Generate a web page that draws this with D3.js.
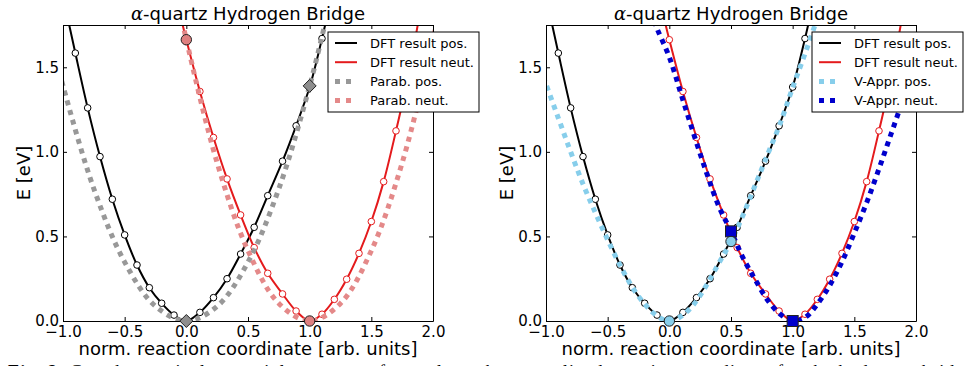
<!DOCTYPE html>
<head>
  <meta charset="utf-8">
  <script src="https://d3js.org/d3.v7.min.js"></script>
  <style>
    body { margin:0; background:#fff; }
  </style>
</head>
<body>
<script>
var xTicks = [-1.0, -0.5, 0.0, 0.5, 1.0, 1.5, 2.0];
var yTicks = [0.0, 0.5, 1.0, 1.5];

// DFT results (first and last entry only carry the line out of the frame)
var dftPosX = [-1.0, -0.9, -0.8, -0.7, -0.6, -0.5, -0.4, -0.3, -0.2, -0.1, 0.0, 0.11, 0.22, 0.33, 0.44, 0.55, 0.66, 0.78, 0.89, 1.0, 1.1, 1.15];
var dftPosE = [1.92, 1.584, 1.26, 0.972, 0.72, 0.509, 0.331, 0.197, 0.105, 0.035, 0.0, 0.051, 0.138, 0.25, 0.396, 0.554, 0.741, 0.945, 1.154, 1.383, 1.67, 1.83];
var dftNeutX = [-0.05, 0.0, 0.11, 0.22, 0.33, 0.44, 0.55, 0.66, 0.78, 0.89, 1.0, 1.1, 1.2, 1.3, 1.4, 1.5, 1.6, 1.7, 1.8, 1.9];
var dftNeutE = [1.81, 1.663, 1.357, 1.085, 0.84, 0.627, 0.434, 0.282, 0.16, 0.059, 0.0, 0.04, 0.128, 0.247, 0.4, 0.588, 0.824, 1.124, 1.45, 1.85];

// parabola fits (left panel)
var parabPosX = [-1.05, -1.0, -0.75, -0.5, -0.25, 0.0, 0.25, 0.5, 0.75, 1.0, 1.15];
var parabPosE = [1.532, 1.39, 0.782, 0.348, 0.087, 0.0, 0.087, 0.348, 0.782, 1.39, 1.838];
var parabNeutX = [-0.05, 0.0, 0.25, 0.5, 0.75, 1.0, 1.25, 1.5, 1.75, 2.0, 2.05];
var parabNeutE = [1.833, 1.663, 0.935, 0.416, 0.104, 0.0, 0.104, 0.416, 0.935, 1.663, 1.833];
var parabPosMarkX = [0.0, 1.0], parabPosMarkE = [0.0, 1.39];
var parabNeutMarkX = [0.0, 1.0], parabNeutMarkE = [1.663, 0.0];

// V approximation (right panel)
var vPosX = [-1.05, -1.0, -0.9, -0.8, -0.7, -0.6, -0.5, -0.4, -0.3, -0.2, -0.1, 0.0, 0.1, 0.2, 0.3, 0.4, 0.5, 0.6, 0.7, 0.8, 0.9, 1.0, 1.1, 1.2, 1.25];
var vPosE = [1.50, 1.40, 1.20, 1.00, 0.81, 0.64, 0.48, 0.33, 0.20, 0.10, 0.03, 0.0, 0.03, 0.10, 0.21, 0.34, 0.47, 0.63, 0.81, 0.99, 1.17, 1.38, 1.58, 1.79, 1.90];
var vNeutX = [-0.15, -0.1, 0.0, 0.1, 0.2, 0.3, 0.4, 0.5, 0.6, 0.7, 0.8, 0.9, 1.0, 1.1, 1.2, 1.3, 1.4, 1.5, 1.6, 1.7, 1.8, 1.9, 2.0, 2.05];
var vNeutE = [1.83, 1.73, 1.56, 1.33, 1.10, 0.88, 0.68, 0.53, 0.37, 0.24, 0.12, 0.04, 0.0, 0.02, 0.10, 0.21, 0.35, 0.52, 0.70, 0.90, 1.11, 1.32, 1.53, 1.63];
var vPosMarkX = [0.0, 0.5], vPosMarkE = [0.0, 0.47];
var vNeutMarkX = [0.5, 1.0], vNeutMarkE = [0.53, 0.0];

var width = 980, height = 366;
var font = "DejaVu Sans";

var svg = d3.select("body").append("svg")
    .attr("width", width)
    .attr("height", height)
    .style("font-family", font);

var y = d3.scaleLinear().domain([0, 1.75]).range([321, 25]);

function zip(xs, es) {
  return xs.map(function(v, i) { return [v, es[i]]; });
}

var panels = [
  { left: 63, right: 433, legendX: 328,
    fits: [
      { name: "Parab. pos.", color: "#989898", pts: zip(parabPosX, parabPosE) },
      { name: "Parab. neut.", color: "#e48989", pts: zip(parabNeutX, parabNeutE) }
    ],
    marks: [
      { shape: "diamond", fill: "#8e8e8e", pts: zip(parabPosMarkX, parabPosMarkE) },
      { shape: "circle", fill: "#df8080", pts: zip(parabNeutMarkX, parabNeutMarkE) }
    ] },
  { left: 546, right: 916, legendX: 812,
    fits: [
      { name: "V-Appr. pos.", color: "#87ceeb", pts: zip(vPosX, vPosE) },
      { name: "V-Appr. neut.", color: "#0000cc", pts: zip(vNeutX, vNeutE) }
    ],
    marks: [
      { shape: "square", fill: "#0000cc", pts: zip(vNeutMarkX, vNeutMarkE) },
      { shape: "circle", fill: "#87ceeb", pts: zip(vPosMarkX, vPosMarkE) }
    ] }
];

var dft = [
  { name: "DFT result pos.", color: "#000", pts: zip(dftPosX, dftPosE) },
  { name: "DFT result neut.", color: "#e41a1c", pts: zip(dftNeutX, dftNeutE) }
];

panels.forEach(function(p, k) {
  var x = d3.scaleLinear().domain([-1, 2]).range([p.left, p.right]);
  var line = d3.line()
      .x(function(d) { return x(d[0]); })
      .y(function(d) { return y(d[1]); })
      .curve(d3.curveCatmullRom);

  svg.append("clipPath").attr("id", "clip" + k)
    .append("rect")
      .attr("x", p.left).attr("y", y(1.75))
      .attr("width", p.right - p.left).attr("height", y(0) - y(1.75));

  var g = svg.append("g").attr("clip-path", "url(#clip" + k + ")");

  dft.forEach(function(s) {
    g.append("path")
        .attr("d", line(s.pts))
        .attr("fill", "none")
        .attr("stroke", s.color)
        .attr("stroke-width", 2);
    g.selectAll(null)
        .data(s.pts.slice(1, -1))
        .enter().append("circle")
        .attr("cx", function(d) { return x(d[0]); })
        .attr("cy", function(d) { return y(d[1]); })
        .attr("r", 3.3)
        .attr("fill", "#fff")
        .attr("stroke", s.color)
        .attr("stroke-width", 1);
  });

  p.fits.forEach(function(s) {
    g.append("path")
        .attr("d", line(s.pts))
        .attr("fill", "none")
        .attr("stroke", s.color)
        .attr("stroke-width", 5)
        .attr("stroke-dasharray", "5,5");
  });

  // axes, ticks pointing inward
  var gx = svg.append("g").attr("transform", "translate(0," + y(0) + ")")
      .call(d3.axisBottom(x).tickValues(xTicks).tickFormat(d3.format(".1f"))
        .tickSize(-4).tickSizeOuter(0).tickPadding(5));
  svg.append("g").attr("transform", "translate(0," + y(1.75) + ")")
      .call(d3.axisTop(x).tickValues(xTicks).tickFormat("").tickSize(-4).tickSizeOuter(0));
  var gy = svg.append("g").attr("transform", "translate(" + p.left + ",0)")
      .call(d3.axisLeft(y).tickValues(yTicks).tickFormat(d3.format(".1f"))
        .tickSize(-4).tickSizeOuter(0).tickPadding(4));
  svg.append("g").attr("transform", "translate(" + p.right + ",0)")
      .call(d3.axisRight(y).tickValues(yTicks).tickFormat("").tickSize(-4).tickSizeOuter(0));

  svg.selectAll(".domain").attr("stroke", "#000").attr("stroke-width", 1);
  svg.selectAll(".tick line").attr("stroke", "#000");
  [gx, gy].forEach(function(a) {
    a.attr("font-family", font).attr("font-size", 15);
    a.selectAll("text").attr("fill", "#000");
  });

  // fit markers drawn over the frame
  p.marks.forEach(function(m) {
    var sel = svg.append("g")
        .attr("fill", m.fill)
        .attr("stroke", "#222")
        .attr("stroke-width", 1)
      .selectAll(null).data(m.pts).enter();
    if (m.shape == "circle") {
      sel.append("circle")
          .attr("cx", function(d) { return x(d[0]); })
          .attr("cy", function(d) { return y(d[1]); })
          .attr("r", 5.2);
    } else if (m.shape == "square") {
      sel.append("rect")
          .attr("x", function(d) { return x(d[0]) - 5.5; })
          .attr("y", function(d) { return y(d[1]) - 5.5; })
          .attr("width", 11).attr("height", 11);
    } else {
      sel.append("path")
          .attr("transform", function(d) { return "translate(" + x(d[0]) + "," + y(d[1]) + ")"; })
          .attr("d", "M0,-6.5L6.5,0L0,6.5L-6.5,0Z");
    }
  });

  // title and labels
  var cx = (p.left + p.right) / 2;
  var title = svg.append("text")
      .attr("x", cx).attr("y", 20)
      .attr("text-anchor", "middle")
      .attr("font-size", 18);
  title.append("tspan").attr("font-style", "italic").attr("font-family", "DejaVu Serif").text("α");
  title.append("tspan").attr("font-style", "normal").attr("font-family", font).text("-quartz Hydrogen Bridge");

  svg.append("text")
      .attr("x", cx).attr("y", 355)
      .attr("text-anchor", "middle")
      .attr("font-size", 18)
      .text("norm. reaction coordinate [arb. units]");

  svg.append("text")
      .attr("transform", "translate(" + (p.left - 33) + "," + ((y(0) + y(1.75)) / 2) + ") rotate(-90)")
      .attr("text-anchor", "middle")
      .attr("font-size", 18)
      .text("E [eV]");

  // legend
  var items = dft.concat(p.fits);
  var lg = svg.append("g").attr("transform", "translate(" + p.legendX + ",32)");
  lg.append("rect")
      .attr("width", 151).attr("height", 80)
      .attr("fill", "#fff").attr("stroke", "#000").attr("stroke-width", 1);
  items.forEach(function(s, i) {
    var yy = 11 + i * 19.2;
    lg.append("line")
        .attr("x1", 7).attr("x2", i < 2 ? 29 : 27)
        .attr("y1", yy).attr("y2", yy)
        .attr("stroke", s.color)
        .attr("stroke-width", i < 2 ? 2 : 5)
        .attr("stroke-dasharray", i < 2 ? null : "5,6");
    lg.append("text")
        .attr("x", 42).attr("y", yy).attr("dy", "0.35em")
        .attr("font-size", 13)
        .text(s.name);
  });
});

// caption of the figure, mostly cut off at the bottom edge
var cap = svg.append("text")
    .attr("x", 8).attr("y", 378)
    .attr("font-family", "Liberation Serif")
    .attr("font-size", 18)
    .attr("textLength", 966)
    .attr("lengthAdjust", "spacing");
cap.append("tspan").attr("font-weight", "bold").text("Fig. 2.");
cap.append("tspan").text("   Grand canonical potential energy surfaces along the normalized reaction coordinate for the hydrogen bridge");
</script>
</body>
